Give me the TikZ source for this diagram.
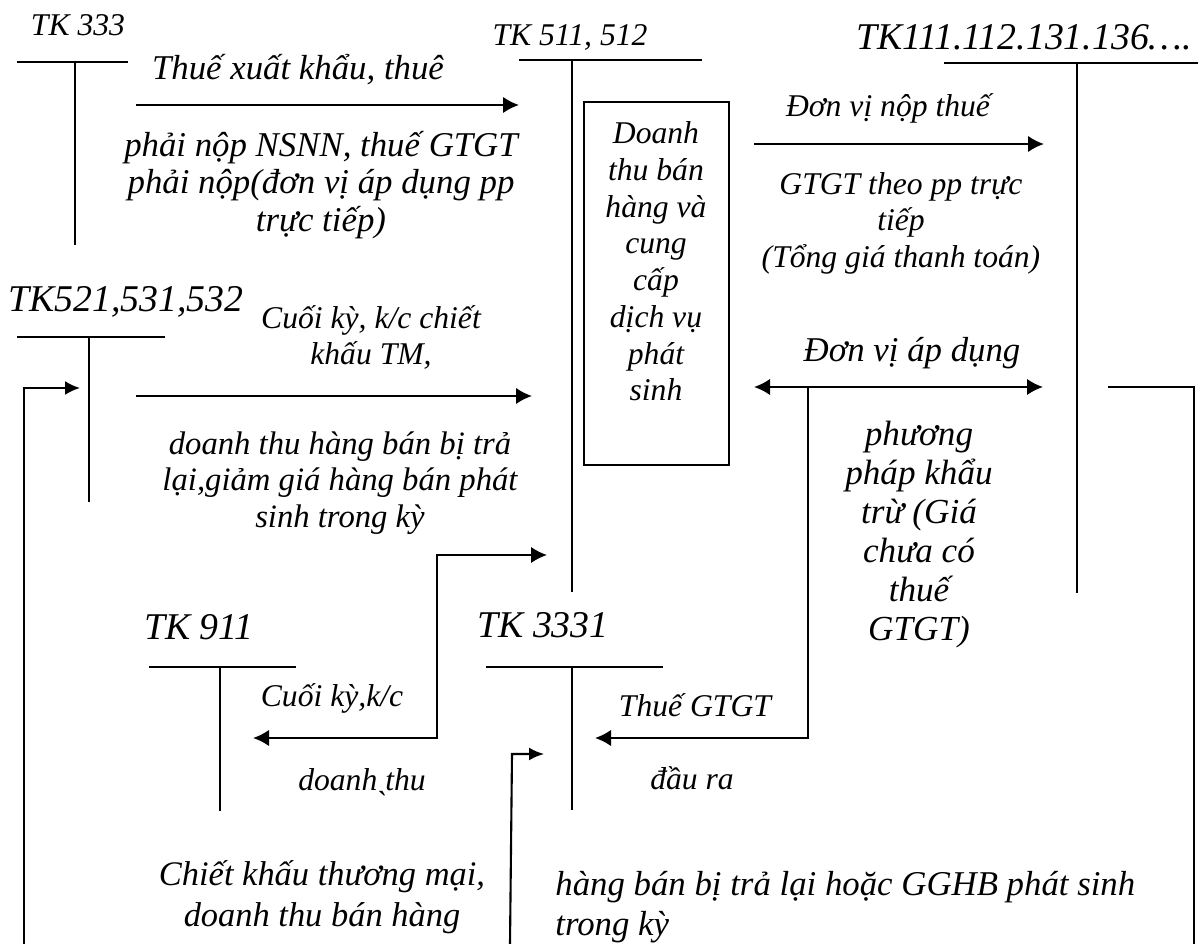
\documentclass[tikz,border=0pt]{standalone}
\usepackage{fontspec}
\setmainfont{Liberation Serif}
\usetikzlibrary{arrows.meta}

\begin{document}
\begin{tikzpicture}[
  >={Latex[length=3.2mm,width=3.3mm]},
  lbl/.style={font=\fontsize{18}{20.8}\selectfont\itshape, align=center, inner sep=0pt},
  lblbig/.style={font=\fontsize{19.8}{21.4}\selectfont\itshape, align=center, inner sep=0pt},
  tkbig/.style={font=\fontsize{21.5}{24}\selectfont\itshape, inner sep=0pt},
  tksmall/.style={font=\fontsize{18}{20}\selectfont\itshape, inner sep=0pt},
  tline/.style={line width=0.8pt},
  flow/.style={line width=1.3pt, ->},
  loopline/.style={line width=1.2pt}
]

% Khung
\useasboundingbox (0,0) rectangle (23.96,18.88);

% Tai khoan chu T
\node[tksmall] (n333) at (1.56,18.38) {TK 333};
\coordinate (t333L) at (0.34,17.64); \coordinate (t333R) at (2.56,17.64);
\coordinate (t333T) at (1.50,17.64); \coordinate (t333B) at (1.50,13.98);
\draw[tline] (t333L) -- (t333R);
\draw[tline] (t333T) -- (t333B);

\node[tksmall] (n511) at (11.40,18.14) {TK 511, 512};
\coordinate (t511L) at (10.38,17.68); \coordinate (t511R) at (14.04,17.68);
\coordinate (t511T) at (11.44,17.68); \coordinate (t511B) at (11.44,7.04);
\draw[tline] (t511L) -- (t511R);
\draw[tline] (t511T) -- (t511B);

\node[tkbig] (n111) at (20.48,18.14) {TK111.112.131.136….};
\coordinate (t111L) at (18.88,17.62); \coordinate (t111R) at (23.96,17.62);
\coordinate (t111T) at (21.54,17.62); \coordinate (t111B) at (21.54,7.02);
\draw[tline] (t111L) -- (t111R);
\draw[tline] (t111T) -- (t111B);

\node[tkbig] (n521) at (2.52,12.84) {TK521,531,532};
\coordinate (t521L) at (0.34,12.14); \coordinate (t521R) at (3.30,12.14);
\coordinate (t521T) at (1.78,12.14); \coordinate (t521B) at (1.78,8.84);
\draw[tline] (t521L) -- (t521R);
\draw[tline] (t521T) -- (t521B);

\node[tkbig] (n911) at (3.98,6.34) {TK 911};
\coordinate (t911L) at (2.98,5.54); \coordinate (t911R) at (5.92,5.54);
\coordinate (t911T) at (4.40,5.54); \coordinate (t911B) at (4.40,2.66);
\draw[tline] (t911L) -- (t911R);
\draw[tline] (t911T) -- (t911B);

\node[tkbig] (n3331) at (10.86,6.38) {TK 3331};
\coordinate (t3331L) at (9.72,5.54); \coordinate (t3331R) at (13.26,5.54);
\coordinate (t3331T) at (11.44,5.54); \coordinate (t3331B) at (11.44,2.68);
\draw[tline] (t3331L) -- (t3331R);
\draw[tline] (t3331T) -- (t3331B);

% O doanh thu
\node[draw, line width=1pt, minimum width=2.9cm, minimum height=7.26cm] (box) at (13.13,13.21) {};
\node[lbl, font=\fontsize{18}{20.9}\selectfont\itshape] (boxtxt) at (13.12,13.65)
  {Doanh\\thu bán\\hàng và\\cung\\cấp\\dịch vụ\\phát\\sinh};

% Thue xuat khau
\coordinate (a1s) at (2.72,16.78); \coordinate (a1e) at (10.38,16.78);
\draw[flow] (a1s) -- (a1e);
\node[lblbig] (a1up) at (5.96,17.48) {Thuế xuất khẩu, thuê};
\node[lblbig] (a1dn) at (6.42,15.18) {phải nộp NSNN, thuế GTGT\\phải nộp(đơn vị áp dụng pp\\trực tiếp)};

% Don vi nop thue truc tiep
\coordinate (a2s) at (15.08,16.00); \coordinate (a2e) at (20.88,16.00);
\draw[flow] (a2s) -- (a2e);
\node[lbl] (a2up) at (17.76,16.72) {Đơn vị nộp thuế};
\node[lbl] (a2dn) at (18.02,14.42) {GTGT theo pp trực\\tiếp\\(Tổng giá thanh toán)};

% Ket chuyen chiet khau
\coordinate (a3s) at (2.72,10.96); \coordinate (a3e) at (10.64,10.96);
\draw[flow] (a3s) -- (a3e);
\node[lbl, font=\fontsize{18}{20}\selectfont\itshape] (a3up) at (7.42,12.13) {Cuối kỳ, k/c chiết\\khấu TM,};
\node[lbl, font=\fontsize{18.6}{20.6}\selectfont\itshape] (a3dn) at (6.80,9.22) {doanh thu hàng bán bị trả\\lại,giảm giá hàng bán phát\\sinh trong kỳ};

% Phuong phap khau tru
\coordinate (a4l) at (15.08,11.14); \coordinate (a4r) at (20.86,11.14);
\coordinate (a4m) at (16.16,11.14); \coordinate (a4c) at (16.16,4.12);
\coordinate (a4e) at (11.90,4.12);
\draw[flow, <->] (a4l) -- (a4r);
\draw[flow] (a4m) -- (a4c) -- (a4e);
\node[lblbig] (a4up) at (18.24,11.82) {Đơn vị áp dụng};
\node[lblbig, font=\fontsize{20}{22.2}\selectfont\itshape] (a4dn) at (18.38,8.18) {phương\\pháp khẩu\\trừ (Giá\\chưa có\\thuế\\GTGT)};
\node[lbl] (a4t1) at (13.90,4.78) {Thuế GTGT};
\node[lbl] (a4t2) at (13.84,3.32) {đầu ra};

% Ket chuyen doanh thu thuan
\coordinate (a5l) at (5.06,4.12); \coordinate (a5c1) at (8.74,4.12);
\coordinate (a5c2) at (8.74,7.78); \coordinate (a5r) at (10.94,7.78);
\draw[flow, <->] (a5l) -- (a5c1) -- (a5c2) -- (a5r);
\node[lbl] (a5up) at (6.64,4.92) {Cuối kỳ,k/c};
\node[lbl] (a5dn) at (7.24,3.28) {doanh thu};
\node[lbl] (a5acc) at (7.66,2.78) {\`{}};

% Duong vong
\coordinate (r1) at (22.16,11.14); \coordinate (r2) at (23.88,11.14);
\coordinate (r3) at (23.88,0);
\draw[loopline] (r1) -- (r2) -- (r3);
\coordinate (l1) at (0.48,0); \coordinate (l2) at (0.48,11.12);
\coordinate (l3) at (1.60,11.12);
\draw[loopline, -{Latex[length=3mm,width=2.8mm]}] (l1) -- (l2) -- (l3);
\coordinate (s1) at (10.20,0); \coordinate (s2) at (10.24,3.80);
\coordinate (s3) at (10.88,3.80);
\draw[loopline, -{Latex[length=3mm,width=2.6mm]}] (s1) -- (s2) -- (s3);

% Chu thich duoi
\node[lblbig, font=\fontsize{19.6}{23}\selectfont\itshape] (bt1) at (6.44,0.94) {Chiết khấu thương mại,\\doanh thu bán hàng};
\node[lblbig, font=\fontsize{19.8}{22.5}\selectfont\itshape, align=left, anchor=west] (bt2) at (11.10,0.74) {hàng bán bị trả lại hoặc GGHB phát sinh\\trong kỳ};

\end{tikzpicture}
\end{document}
